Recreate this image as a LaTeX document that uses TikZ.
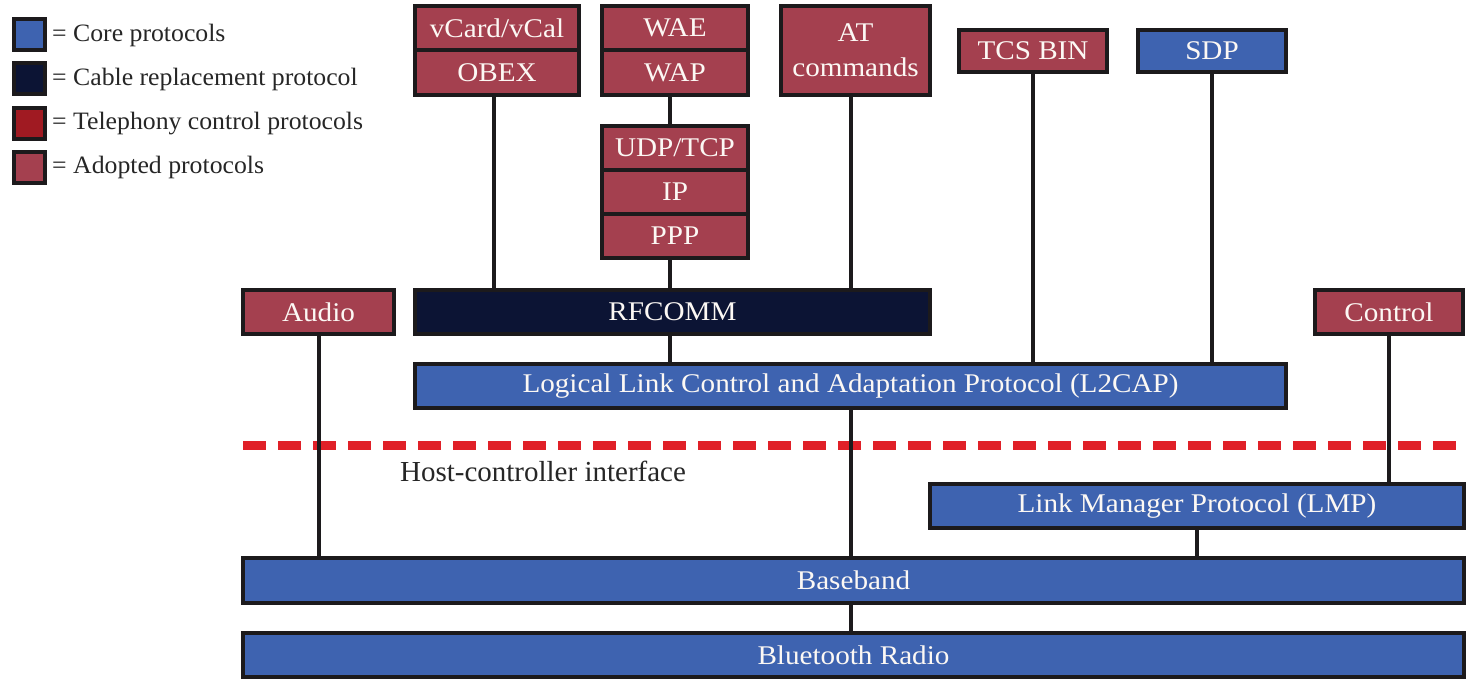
\documentclass[tikz,border=0pt]{standalone}
\usepackage{fontspec}
\setmainfont{Liberation Serif}
\newfontfamily\boxfont{Liberation Serif}[FakeStretch=1.08]
\newfontfamily\legfont{Liberation Serif}[FakeStretch=1.03]
\definecolor{coreblue}{RGB}{62,99,176}
\definecolor{adopted}{RGB}{164,64,79}
\definecolor{cablerep}{RGB}{12,20,52}
\definecolor{teleph}{RGB}{160,26,34}
\definecolor{bord}{RGB}{28,26,28}
\definecolor{txtw}{RGB}{252,248,244}
\definecolor{hcired}{RGB}{224,32,40}
\newcommand\protbox[7]{%
  \pgfmathsetmacro\cx{(#3+#5)/2}\pgfmathsetmacro\cy{(#4+#6)/2}%
  \pgfmathsetmacro\ww{#5-#3-4}\pgfmathsetmacro\hh{#6-#4-4}%
  \node[#2, minimum width=\ww pt, minimum height=\hh pt] (#1) at (\cx,\cy) {#7};}
\tikzset{
  pbox/.style={draw=bord, line width=4pt, inner sep=0pt, text=txtw,
    font=\boxfont\fontsize{27}{35}\selectfont, align=center},
  core/.style={pbox, fill=coreblue},
  adop/.style={pbox, fill=adopted},
  cable/.style={pbox, fill=cablerep},
  tele/.style={pbox, fill=teleph},
  conn/.style={draw=bord, line width=4pt},
  legsq/.style={draw=bord, line width=4pt, inner sep=0pt, minimum size=31pt},
  legtxt/.style={anchor=west, inner sep=0pt, text=black!85, font=\legfont\fontsize{25}{28}\selectfont},
  hci/.style={draw=hcired, line width=9pt, dash pattern=on 23pt off 12pt},
}
\begin{document}
\begin{tikzpicture}[x=1pt, y=-1pt]
\useasboundingbox (0,0) rectangle (1476,692);
% legend
\node[legsq, fill=coreblue] (lg1) at (29.5,35) {};
\node[legsq, fill=cablerep] (lg2) at (29.5,79) {};
\node[legsq, fill=teleph] (lg3) at (29.5,123.5) {};
\node[legsq, fill=adopted] (lg4) at (29.5,167.5) {};
\node[legtxt] (lt1) at (52,35) {= Core protocols};
\node[legtxt] (lt2) at (52,79) {= Cable replacement protocol};
\node[legtxt] (lt3) at (52,123.5) {= Telephony control protocols};
\node[legtxt] (lt4) at (52,167.5) {= Adopted protocols};
% top stacks
\protbox{vcard}{adop}{413}{4}{581}{52}{vCard/vCal}
\protbox{obex}{adop}{413}{48}{581}{97}{OBEX}
\protbox{wae}{adop}{600}{4}{750}{52}{WAE}
\protbox{wap}{adop}{600}{48}{750}{97}{WAP}
\protbox{at}{adop}{779}{4}{932}{97}{\raisebox{-3pt}{\parbox{140pt}{\centering AT\\commands}}}
\protbox{udp}{adop}{600}{124}{750}{172}{UDP/TCP}
\protbox{ip}{adop}{600}{168}{750}{216}{IP}
\protbox{ppp}{adop}{600}{212}{750}{260}{PPP}
\protbox{tcs}{adop}{957}{28}{1109}{74}{TCS BIN}
\protbox{sdp}{core}{1136}{28}{1288}{74}{SDP}
% middle
\protbox{audio}{adop}{241}{288}{396}{336}{Audio}
\protbox{rfcomm}{cable}{413}{288}{932}{336}{RFCOMM}
\protbox{control}{adop}{1313}{288}{1465}{336}{Control}
\protbox{l2cap}{core}{413}{362}{1288}{410}{Logical Link Control and Adaptation Protocol (L2CAP)}
\protbox{lmp}{core}{928}{482}{1466}{530}{Link Manager Protocol (LMP)}
\protbox{base}{core}{241}{556}{1466}{605}{Baseband}
\protbox{radio}{core}{241}{631}{1466}{679}{Bluetooth Radio}
% HCI
\coordinate (hcil) at (243,446);
\coordinate (hcir) at (1466,446);
\draw[hci] (hcil) -- (hcir);
\node[anchor=center, inner sep=0pt, text=black!85, font=\fontsize{29}{32}\selectfont] (hcitxt) at (543,471) {Host-controller interface};
% connectors
\coordinate (c1) at (494,0);
\coordinate (c2) at (670,0);
\coordinate (c3) at (851,0);
\draw[conn] (obex.south -| c1) -- (rfcomm.north -| c1);
\draw[conn] (wap.south -| c2) -- (udp.north -| c2);
\draw[conn] (ppp.south -| c2) -- (rfcomm.north -| c2);
\draw[conn] (at.south -| c3) -- (rfcomm.north -| c3);
\draw[conn] (tcs.south) -- (tcs.south |- l2cap.north);
\draw[conn] (sdp.south) -- (sdp.south |- l2cap.north);
\draw[conn] (rfcomm.south -| c2) -- (l2cap.north -| c2);
\draw[conn] (l2cap.south -| c3) -- (base.north -| c3);
\draw[conn] (audio.south) -- (audio.south |- base.north);
\draw[conn] (control.south) -- (control.south |- lmp.north);
\draw[conn] (lmp.south) -- (lmp.south |- base.north);
\draw[conn] (base.south -| c3) -- (radio.north -| c3);
\end{tikzpicture}
\end{document}
